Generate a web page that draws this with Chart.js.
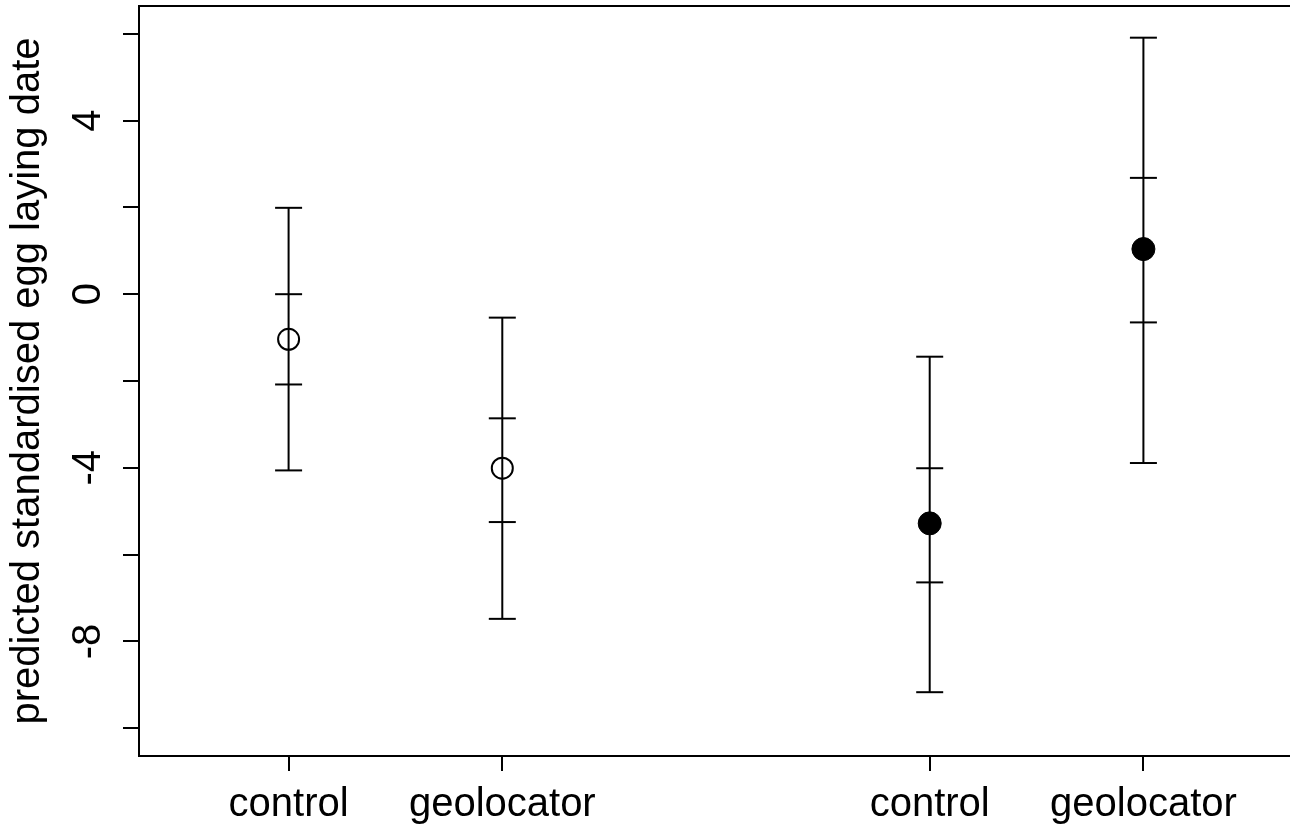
<!DOCTYPE html>
<html>
<head>
<meta charset="utf-8">
<script src="https://cdn.jsdelivr.net/npm/chart.js@4/dist/chart.umd.min.js"></script>
<style>
  html, body { margin: 0; padding: 0; background: #fff; overflow: hidden; }
  canvas { display: block; }
</style>
</head>
<body>
<canvas id="eggChart" width="1300" height="826"></canvas>
<script>
// Categories and their positions on the x axis
const categories = ['control', 'geolocator', 'control', 'geolocator'];
const xPos = [1, 2, 4, 5];
const filled = [false, false, true, true];

// Predicted values with inner and outer intervals
const means = [-1.04, -4.01, -5.28, 1.04];
const innerLow = [-2.08, -5.25, -6.64, -0.65];
const innerHigh = [0.0, -2.86, -4.01, 2.68];
const outerLow = [-4.06, -7.48, -9.17, -3.89];
const outerHigh = [1.99, -0.54, -1.44, 5.91];

// Axis ticks
const yTicks = [-10, -8, -6, -4, -2, 0, 2, 4, 6];
const yTickLabels = ['-8', '-4', '0', '4'];

const FONT = '"Liberation Sans", Arial, sans-serif';

// Vertical whiskers, broken between groups
var whiskers = [];
xPos.forEach(function(x, i) {
    whiskers.push({x: x, y: outerHigh[i]});
    whiskers.push({x: x, y: outerLow[i]});
    whiskers.push({x: x, y: null});
});

// Caps at both interval ends
var caps = [];
xPos.forEach(function(x, i) {
    caps.push({x: x, y: outerHigh[i]}, {x: x, y: outerLow[i]});
    caps.push({x: x, y: innerHigh[i]}, {x: x, y: innerLow[i]});
});

var openPts = [], filledPts = [];
xPos.forEach(function(x, i) {
    (filled[i] ? filledPts : openPts).push({x: x, y: means[i]});
});

// Draws the frame and the rotated y tick labels
const framePlugin = {
    id: 'frame',
    afterDraw: function(chart) {
        var ctx = chart.ctx, a = chart.chartArea, ys = chart.scales.y;
        ctx.save();
        ctx.strokeStyle = '#000';
        ctx.lineWidth = 2;
        ctx.strokeRect(a.left, a.top, a.right - a.left, a.bottom - a.top);
        ctx.font = '40px ' + FONT;
        ctx.fillStyle = '#000';
        ctx.textAlign = 'center';
        ctx.textBaseline = 'middle';
        yTickLabels.forEach(function(t) {
            ctx.save();
            ctx.translate(ys.right - 50, ys.getPixelForValue(Number(t)));
            ctx.rotate(-Math.PI / 2);
            ctx.fillText(t, 0, 0);
            ctx.restore();
        });
        ctx.restore();
    }
};

new Chart(document.getElementById('eggChart').getContext('2d'), {
    type: 'scatter',
    data: {
        datasets: [
            {
                data: whiskers, showLine: true, spanGaps: false,
                borderColor: '#000', borderWidth: 2, pointRadius: 0
            },
            {
                data: caps, pointStyle: 'line', pointRadius: 13.5,
                pointBorderColor: '#000', pointBorderWidth: 2
            },
            {
                data: openPts, pointStyle: 'circle', pointRadius: 10.5,
                pointBackgroundColor: 'rgba(0,0,0,0)', pointBorderColor: '#000', pointBorderWidth: 2
            },
            {
                data: filledPts, pointStyle: 'circle', pointRadius: 11.5,
                pointBackgroundColor: '#000', pointBorderColor: '#000', pointBorderWidth: 1
            }
        ]
    },
    options: {
        responsive: false,
        animation: false,
        layout: { autoPadding: false, padding: { top: 6, right: 7, left: 0, bottom: 0 } },
        plugins: { legend: { display: false }, tooltip: { enabled: false } },
        scales: {
            x: {
                type: 'linear', min: 0.3, max: 5.7,
                afterBuildTicks: function(s) { s.ticks = xPos.map(function(v) { return {value: v}; }); },
                afterFit: function(s) { s.height = 70; s.paddingLeft = 0; s.paddingRight = 0; },
                ticks: {
                    color: '#000', padding: 10, maxRotation: 0, autoSkip: false,
                    font: { family: FONT, size: 40 },
                    callback: function(v) { return categories[xPos.indexOf(v)]; }
                },
                grid: { drawOnChartArea: false, drawTicks: true, tickLength: 15, color: '#000', lineWidth: 2 },
                border: { display: true, color: '#000', width: 2 }
            },
            y: {
                type: 'linear', min: -10.64, max: 6.64,
                afterBuildTicks: function(s) { s.ticks = yTicks.map(function(v) { return {value: v}; }); },
                afterFit: function(s) { s.width = 139; s.paddingTop = 0; s.paddingBottom = 0; },
                ticks: { color: 'rgba(0,0,0,0)', font: { family: FONT, size: 40 } },
                grid: { drawOnChartArea: false, drawTicks: true, tickLength: 16, color: '#000', lineWidth: 2 },
                border: { display: true, color: '#000', width: 2 },
                title: {
                    display: true, text: 'predicted standardised egg laying date', color: '#000',
                    font: { family: FONT, size: 40, lineHeight: 1.2 }, padding: { top: 4, bottom: 0 }
                }
            }
        }
    },
    plugins: [framePlugin]
});
</script>
</body>
</html>
